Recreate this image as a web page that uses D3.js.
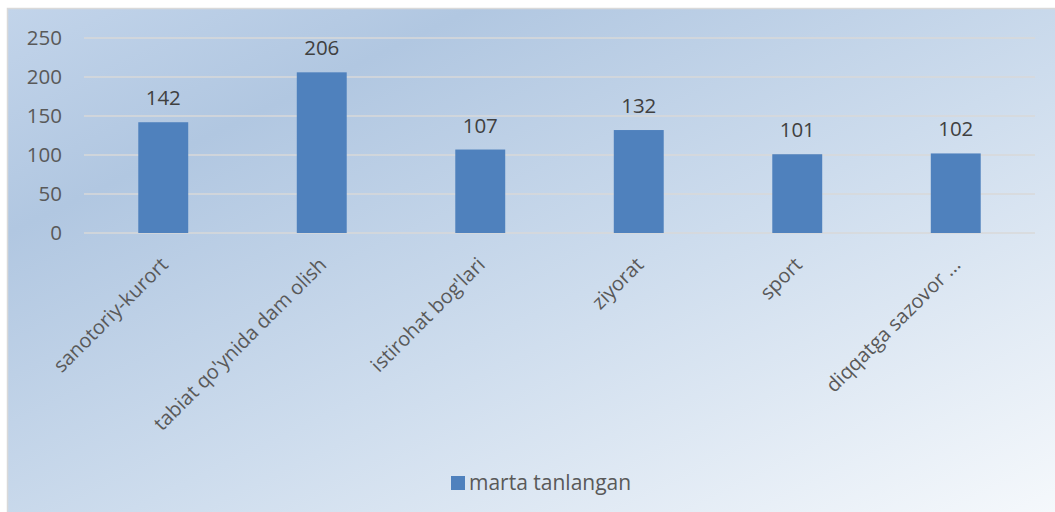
<!DOCTYPE html>
<html><head><meta charset="utf-8">
<script src="https://cdn.jsdelivr.net/npm/d3@7"></script>
<style>body{margin:0;background:#fff}svg{display:block}</style>
</head><body>
<svg id="c" width="1055" height="512"></svg>
<script>
const categories = ["sanotoriy-kurort","tabiat qo'ynida dam olish","istirohat bog'lari","ziyorat","sport","diqqatga sazovor ..."];
const values = [142,206,107,132,101,102];
const yTicks = [0,50,100,150,200,250];
const seriesName = "marta tanlangan";

const svg = d3.select("#c");
const defs = svg.append("defs");
const g = defs.append("linearGradient").attr("id","bg").attr("x1","0").attr("y1","0").attr("x2","1").attr("y2","1");
g.append("stop").attr("offset","0").attr("stop-color","#c2d4ea");
g.append("stop").attr("offset","0.22").attr("stop-color","#b1c7e1");
g.append("stop").attr("offset","0.55").attr("stop-color","#cddced");
g.append("stop").attr("offset","1").attr("stop-color","#f6f9fc");
svg.append("rect").attr("x",7.5).attr("y",8.5).attr("width",1060).attr("height",510)
  .attr("fill","url(#bg)").attr("stroke","#d9d9d9").attr("stroke-width",1.5);

const font = "'Open Sans', sans-serif";
const x = d3.scaleBand().domain(categories).range([84,1035]).paddingInner(0.685).paddingOuter(0.3425);
const y = d3.scaleLinear().domain([0,250]).range([233,38]);

svg.append("g").selectAll("line").data(yTicks).join("line")
  .attr("x1",84).attr("x2",1035).attr("y1",d=>y(d)).attr("y2",d=>y(d))
  .attr("stroke","#d9d9d9").attr("stroke-width",1.5);

const ya = svg.append("g").attr("transform","translate(84,0)")
  .call(d3.axisLeft(y).tickValues(yTicks).tickSize(0).tickPadding(22));
ya.select(".domain").remove();
ya.selectAll("text").attr("font-family",font).attr("font-size",20.5).attr("fill","#595959");

svg.append("g").selectAll("rect").data(values).join("rect")
  .attr("x",(d,i)=>x(categories[i])).attr("width",x.bandwidth())
  .attr("y",d=>y(d)).attr("height",d=>y(0)-y(d)).attr("fill","#4f81bd");

svg.append("g").selectAll("text").data(values).join("text")
  .attr("x",(d,i)=>x(categories[i])+x.bandwidth()/2).attr("y",d=>y(d)-17)
  .attr("text-anchor","middle").attr("font-family",font).attr("font-size",20.5).attr("fill","#404040")
  .text(d=>d);

const xa = svg.append("g").attr("transform","translate(0,233)")
  .call(d3.axisBottom(x).tickSize(0).tickPadding(0));
xa.select(".domain").remove();
xa.selectAll("text").attr("font-family",font).attr("font-size",20).attr("fill","#595959")
  .attr("text-anchor","end").attr("dy",0)
  .attr("transform","translate(6,33) rotate(-45)");

const lg = svg.append("g");
lg.append("rect").attr("x",451).attr("y",476).attr("width",14).attr("height",14).attr("fill","#4f81bd");
lg.append("text").attr("x",469).attr("y",490).attr("font-family",font).attr("font-size",21).attr("fill","#595959").text(seriesName);
</script>
</body></html>
